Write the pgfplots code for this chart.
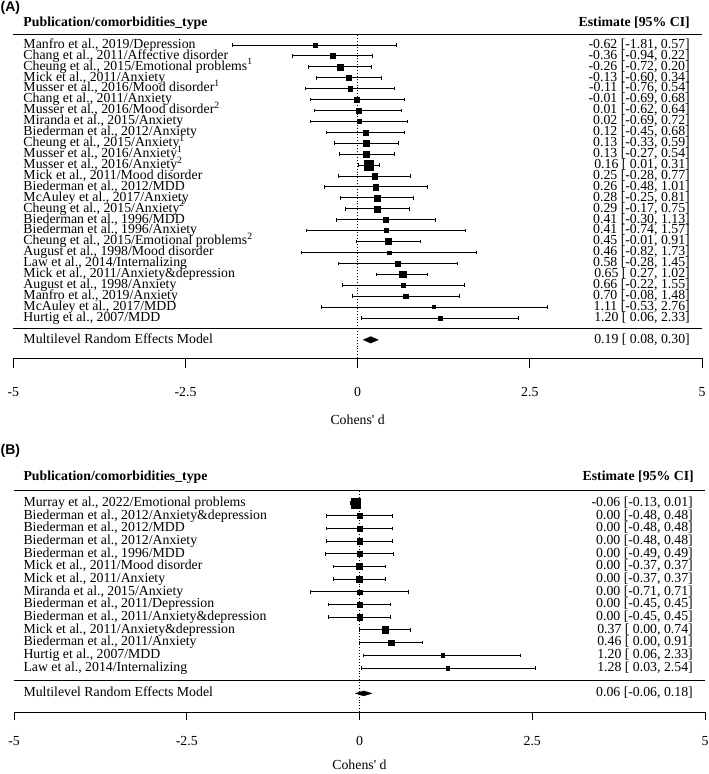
\documentclass[border=0pt]{standalone}
\usepackage{pgfplots}
\pgfplotsset{compat=1.18}
\usepackage{pgfplotstable}
\usepackage{fontspec}
\setmainfont{Liberation Serif}
\newfontfamily\arialfont{Liberation Sans}

% Panel A: row, estimate, lower, upper, half marker size (pt)
\pgfplotstableread{
r est lo hi sz
26 -0.62 -1.81 0.57 1.7
25 -0.36 -0.94 0.22 2.7
24 -0.26 -0.72 0.20 3.0
23 -0.13 -0.60 0.34 2.8
22 -0.11 -0.76 0.54 2.2
21 -0.01 -0.69 0.68 2.5
20 0.01 -0.62 0.64 2.5
19 0.02 -0.69 0.72 2.2
18 0.12 -0.45 0.68 2.5
17 0.13 -0.33 0.59 3.0
16 0.13 -0.27 0.54 3.0
15 0.16 0.01 0.31 4.7
14 0.25 -0.28 0.77 2.7
13 0.26 -0.48 1.01 2.7
12 0.28 -0.25 0.81 3.0
11 0.29 -0.17 0.75 3.0
10 0.41 -0.30 1.13 2.3
9 0.41 -0.74 1.57 2.0
8 0.45 -0.01 0.91 3.0
7 0.46 -0.82 1.73 1.8
6 0.58 -0.28 1.45 2.3
5 0.65 0.27 1.02 3.3
4 0.66 -0.22 1.55 2.3
3 0.70 -0.08 1.48 2.3
2 1.11 -0.53 2.76 1.5
1 1.20 0.06 2.33 2.0
}\dataA

% Panel B
\pgfplotstableread{
r est lo hi sz
14 -0.06 -0.13 0.01 4.7
13 0.00 -0.48 0.48 2.7
12 0.00 -0.48 0.48 2.7
11 0.00 -0.48 0.48 2.7
10 0.00 -0.49 0.49 2.7
9 0.00 -0.37 0.37 3.0
8 0.00 -0.37 0.37 3.0
7 0.00 -0.71 0.71 2.2
6 0.00 -0.45 0.45 2.7
5 0.00 -0.45 0.45 2.7
4 0.37 0.00 0.74 3.3
3 0.46 0.00 0.91 2.7
2 1.20 0.06 2.33 1.7
1 1.28 0.03 2.54 1.7
}\dataB

\newcommand\fs{\fontsize{13.8}{13.8}\selectfont}

\tikzset{
  lab/.style={font=\fs, inner sep=0pt, text height=0.66em, text depth=0pt},
}
\newcommand\Lt[3]{\node[lab, anchor=west] at (axis cs:#1,#2) {#3};}
\newcommand\Rt[3]{\node[lab, anchor=east] at (axis cs:#1,#2) {#3};}

\pgfplotsset{
  forest/.style={
    clip=false,
    axis y line=none,
    ytick=\empty,
    axis x line*=bottom,
    x axis line style={-, line width=1pt},
    xmin=-5, xmax=5,
    xtick={-5,-2.5,0,2.5,5},
    xticklabels={-5,-2.5,0,2.5,5},
    tick align=outside,
    xtick style={line width=1pt, black},
    tick label style={font=\fs},
    xticklabel style={anchor=center},
    anchor=south west,
    xlabel style={font=\fs, at={(axis description cs:0.5,0)}, anchor=center},
  },
  ci/.style={draw=none, mark=none,
    error bars/.cd, x dir=both, x explicit,
    error mark=|,
    error bar style={draw=black, line width=1pt, solid},
    error mark options={draw=black, line width=1pt, mark size=1.8pt}},
  sq/.style={only marks, mark=square*, scatter,
    scatter/use mapped color={draw=black, fill=black},
    mark options={line width=0.3pt},
    visualization depends on={\thisrow{sz}\as\msz},
    scatter/@pre marker code/.append style={/tikz/mark size=\msz}},
}

\begin{document}
\begin{tikzpicture}
\useasboundingbox (0pt,0pt) rectangle (709pt,-774pt);

% ---------------- Panel A ----------------
\node[font=\arialfont\bfseries\fontsize{14}{14}\selectfont, anchor=west, inner sep=0pt,
      text height=0.72em, text depth=0.2em] at (0.5pt,-9pt) {(A)};
\begin{axis}[forest, x=68.87pt, y=10.92pt, ymin=-2.663, ymax=29.6,
  at={(13.3pt,-358pt)}, major tick length=10pt,
  xticklabel style={yshift=-24pt},
  xlabel={Cohens\textquotesingle\ d}, xlabel style={yshift=-62pt}]
  \addplot[black, line width=1pt] coordinates {(-5,27) (5,27)};
  \addplot[black, line width=1pt] coordinates {(-5,0) (5,0)};
  \addplot[black, dotted, line width=0.9pt] coordinates {(0,-2.663) (0,27)};
  \addplot[ci] table[x=est, y=r,
     x error plus expr=\thisrow{hi}-\thisrow{est},
     x error minus expr=\thisrow{est}-\thisrow{lo}] {\dataA};
  \addplot[sq] table[x=est, y=r] {\dataA};
  \addplot[fill=black, draw=black, line width=0.3pt] coordinates {(0.08,-1) (0.19,-0.7) (0.30,-1) (0.19,-1.3)} -- cycle;

  \node[lab, font=\fs\bfseries, anchor=west] at (axis cs:-4.855,28) {Publication/comorbidities\_type};
  \node[lab, font=\fs\bfseries, anchor=east] at (axis cs:4.825,28) {Estimate [95\% CI]};
  \Lt{-4.855}{-1}{Multilevel Random Effects Model}
  \Rt{4.825}{-1}{0.19 [ 0.08, 0.30]}

  \Lt{-4.855}{26}{Manfro et al., 2019/Depression}
  \Lt{-4.855}{25}{Chang et al., 2011/Affective disorder}
  \Lt{-4.855}{24}{Cheung et al., 2015/Emotional problems\textsuperscript{1}}
  \Lt{-4.855}{23}{Mick et al., 2011/Anxiety}
  \Lt{-4.855}{22}{Musser et al., 2016/Mood disorder\textsuperscript{1}}
  \Lt{-4.855}{21}{Chang et al., 2011/Anxiety}
  \Lt{-4.855}{20}{Musser et al., 2016/Mood disorder\textsuperscript{2}}
  \Lt{-4.855}{19}{Miranda et al., 2015/Anxiety}
  \Lt{-4.855}{18}{Biederman et al., 2012/Anxiety}
  \Lt{-4.855}{17}{Cheung et al., 2015/Anxiety\textsuperscript{1}}
  \Lt{-4.855}{16}{Musser et al., 2016/Anxiety\textsuperscript{1}}
  \Lt{-4.855}{15}{Musser et al., 2016/Anxiety\textsuperscript{2}}
  \Lt{-4.855}{14}{Mick et al., 2011/Mood disorder}
  \Lt{-4.855}{13}{Biederman et al., 2012/MDD}
  \Lt{-4.855}{12}{McAuley et al., 2017/Anxiety}
  \Lt{-4.855}{11}{Cheung et al., 2015/Anxiety\textsuperscript{2}}
  \Lt{-4.855}{10}{Biederman et al., 1996/MDD}
  \Lt{-4.855}{9}{Biederman et al., 1996/Anxiety}
  \Lt{-4.855}{8}{Cheung et al., 2015/Emotional problems\textsuperscript{2}}
  \Lt{-4.855}{7}{August et al., 1998/Mood disorder}
  \Lt{-4.855}{6}{Law et al., 2014/Internalizing}
  \Lt{-4.855}{5}{Mick et al., 2011/Anxiety\&depression}
  \Lt{-4.855}{4}{August et al., 1998/Anxiety}
  \Lt{-4.855}{3}{Manfro et al., 2019/Anxiety}
  \Lt{-4.855}{2}{McAuley et al., 2017/MDD}
  \Lt{-4.855}{1}{Hurtig et al., 2007/MDD}

  \Rt{4.825}{26}{-0.62 [-1.81, 0.57]}
  \Rt{4.825}{25}{-0.36 [-0.94, 0.22]}
  \Rt{4.825}{24}{-0.26 [-0.72, 0.20]}
  \Rt{4.825}{23}{-0.13 [-0.60, 0.34]}
  \Rt{4.825}{22}{-0.11 [-0.76, 0.54]}
  \Rt{4.825}{21}{-0.01 [-0.69, 0.68]}
  \Rt{4.825}{20}{0.01 [-0.62, 0.64]}
  \Rt{4.825}{19}{0.02 [-0.69, 0.72]}
  \Rt{4.825}{18}{0.12 [-0.45, 0.68]}
  \Rt{4.825}{17}{0.13 [-0.33, 0.59]}
  \Rt{4.825}{16}{0.13 [-0.27, 0.54]}
  \Rt{4.825}{15}{0.16 [ 0.01, 0.31]}
  \Rt{4.825}{14}{0.25 [-0.28, 0.77]}
  \Rt{4.825}{13}{0.26 [-0.48, 1.01]}
  \Rt{4.825}{12}{0.28 [-0.25, 0.81]}
  \Rt{4.825}{11}{0.29 [-0.17, 0.75]}
  \Rt{4.825}{10}{0.41 [-0.30, 1.13]}
  \Rt{4.825}{9}{0.41 [-0.74, 1.57]}
  \Rt{4.825}{8}{0.45 [-0.01, 0.91]}
  \Rt{4.825}{7}{0.46 [-0.82, 1.73]}
  \Rt{4.825}{6}{0.58 [-0.28, 1.45]}
  \Rt{4.825}{5}{0.65 [ 0.27, 1.02]}
  \Rt{4.825}{4}{0.66 [-0.22, 1.55]}
  \Rt{4.825}{3}{0.70 [-0.08, 1.48]}
  \Rt{4.825}{2}{1.11 [-0.53, 2.76]}
  \Rt{4.825}{1}{1.20 [ 0.06, 2.33]}
\end{axis}

% ---------------- Panel B ----------------
\node[font=\arialfont\bfseries\fontsize{14}{14}\selectfont, anchor=west, inner sep=0pt,
      text height=0.72em, text depth=0.2em] at (0.5pt,-452pt) {(B)};
\begin{axis}[forest, x=69.1pt, y=12.69pt, ymin=-2.467, ymax=18.5,
  at={(14pt,-712pt)}, major tick length=8pt,
  xticklabel style={yshift=-21pt},
  xlabel={Cohens\textquotesingle\ d}, xlabel style={yshift=-53pt}]
  \addplot[black, line width=1pt] coordinates {(-5,15) (5,15)};
  \addplot[black, line width=1pt] coordinates {(-5,0) (5,0)};
  \addplot[black, dotted, line width=0.9pt] coordinates {(0,-2.467) (0,15)};
  \addplot[ci] table[x=est, y=r,
     x error plus expr=\thisrow{hi}-\thisrow{est},
     x error minus expr=\thisrow{est}-\thisrow{lo}] {\dataB};
  \addplot[sq] table[x=est, y=r] {\dataB};
  \addplot[fill=black, draw=black, line width=0.3pt] coordinates {(-0.06,-1) (0.06,-0.8) (0.18,-1) (0.06,-1.2)} -- cycle;

  \node[lab, font=\fs\bfseries, anchor=west] at (axis cs:-4.865,16) {Publication/comorbidities\_type};
  \node[lab, font=\fs\bfseries, anchor=east] at (axis cs:4.84,16) {Estimate [95\% CI]};
  \Lt{-4.865}{-1}{Multilevel Random Effects Model}
  \Rt{4.826}{-1}{0.06 [-0.06, 0.18]}

  \Lt{-4.865}{14}{Murray et al., 2022/Emotional problems}
  \Lt{-4.865}{13}{Biederman et al., 2012/Anxiety\&depression}
  \Lt{-4.865}{12}{Biederman et al., 2012/MDD}
  \Lt{-4.865}{11}{Biederman et al., 2012/Anxiety}
  \Lt{-4.865}{10}{Biederman et al., 1996/MDD}
  \Lt{-4.865}{9}{Mick et al., 2011/Mood disorder}
  \Lt{-4.865}{8}{Mick et al., 2011/Anxiety}
  \Lt{-4.865}{7}{Miranda et al., 2015/Anxiety}
  \Lt{-4.865}{6}{Biederman et al., 2011/Depression}
  \Lt{-4.865}{5}{Biederman et al., 2011/Anxiety\&depression}
  \Lt{-4.865}{4}{Mick et al., 2011/Anxiety\&depression}
  \Lt{-4.865}{3}{Biederman et al., 2011/Anxiety}
  \Lt{-4.865}{2}{Hurtig et al., 2007/MDD}
  \Lt{-4.865}{1}{Law et al., 2014/Internalizing}

  \Rt{4.826}{14}{-0.06 [-0.13, 0.01]}
  \Rt{4.826}{13}{0.00 [-0.48, 0.48]}
  \Rt{4.826}{12}{0.00 [-0.48, 0.48]}
  \Rt{4.826}{11}{0.00 [-0.48, 0.48]}
  \Rt{4.826}{10}{0.00 [-0.49, 0.49]}
  \Rt{4.826}{9}{0.00 [-0.37, 0.37]}
  \Rt{4.826}{8}{0.00 [-0.37, 0.37]}
  \Rt{4.826}{7}{0.00 [-0.71, 0.71]}
  \Rt{4.826}{6}{0.00 [-0.45, 0.45]}
  \Rt{4.826}{5}{0.00 [-0.45, 0.45]}
  \Rt{4.826}{4}{0.37 [ 0.00, 0.74]}
  \Rt{4.826}{3}{0.46 [ 0.00, 0.91]}
  \Rt{4.826}{2}{1.20 [ 0.06, 2.33]}
  \Rt{4.826}{1}{1.28 [ 0.03, 2.54]}
\end{axis}
\end{tikzpicture}
\end{document}
